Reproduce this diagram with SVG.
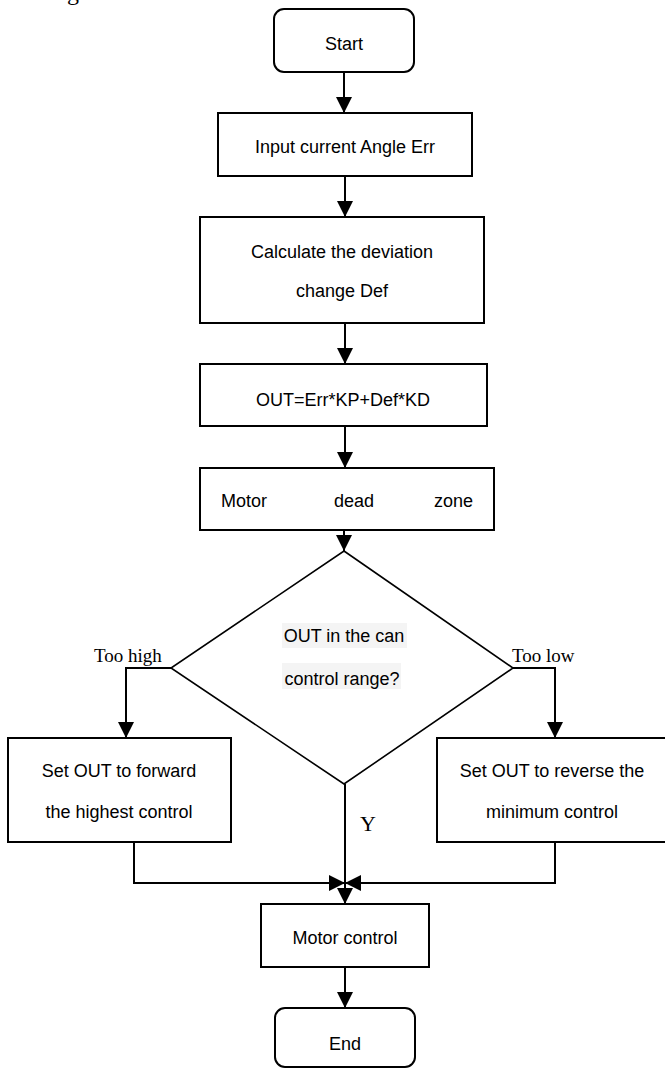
<svg xmlns="http://www.w3.org/2000/svg" width="665" height="1068" viewBox="0 0 665 1068">
  <style>
    .box { fill: #ffffff; stroke: #000000; stroke-width: 2; }
    .dia { fill: #ffffff; stroke: #000000; stroke-width: 1.6; }
    .lbl { font-family: "Liberation Sans", Arial, sans-serif; font-size: 18px; fill: #000000; }
    .mid { text-anchor: middle; }
    .ser { font-family: "Liberation Serif", "Times New Roman", serif; fill: #000000; }
    .hl { fill: #f4f4f4; stroke: none; }
    .wire { fill: none; stroke: #000000; stroke-width: 2; }
  </style>
  <defs>
    <marker id="arrow" markerUnits="userSpaceOnUse" markerWidth="16" markerHeight="16" refX="16" refY="8" orient="auto">
      <path d="M0,0 L16,8 L0,16 z" fill="#000000"/>
    </marker>
  </defs>

  <rect width="665" height="1068" fill="#ffffff"/>

  <!-- descender of the caption line above -->
  <text class="ser" x="67" y="0" font-size="24">g</text>

  <g id="start">
    <rect class="box" x="274" y="9" width="140" height="63" rx="10"/>
    <text class="lbl mid" x="344" y="49.5">Start</text>
  </g>

  <g id="input">
    <rect class="box" x="218" y="113" width="254" height="63"/>
    <text class="lbl mid" x="345" y="153">Input current Angle Err</text>
  </g>

  <g id="deviation">
    <rect class="box" x="200" y="217" width="284" height="106"/>
    <text class="lbl mid" x="342" y="257.5">Calculate the deviation</text>
    <text class="lbl mid" x="342" y="296.5">change Def</text>
  </g>

  <g id="output">
    <rect class="box" x="200" y="364" width="287" height="62"/>
    <text class="lbl mid" x="343" y="405.5">OUT=Err*KP+Def*KD</text>
  </g>

  <g id="deadzone">
    <rect class="box" x="200" y="468" width="294" height="62"/>
    <text class="lbl" x="221" y="506.5">Motor</text>
    <text class="lbl" x="334" y="506.5">dead</text>
    <text class="lbl" x="473" y="506.5" text-anchor="end">zone</text>
  </g>

  <g id="decision">
    <polygon class="dia" points="344,551 513,668 344,784 171,668"/>
    <rect class="hl" x="282" y="623" width="125" height="25"/>
    <rect class="hl" x="282" y="663" width="119" height="26"/>
    <text class="lbl mid" x="344" y="642">OUT in the can</text>
    <text class="lbl mid" x="342" y="685">control range?</text>
  </g>

  <g id="forward">
    <rect class="box" x="8" y="738" width="223" height="104"/>
    <text class="lbl mid" x="119" y="777">Set OUT to forward</text>
    <text class="lbl mid" x="119" y="818">the highest control</text>
  </g>

  <g id="reverse">
    <rect class="box" x="437" y="738" width="240" height="104"/>
    <text class="lbl mid" x="552" y="777">Set OUT to reverse the</text>
    <text class="lbl mid" x="552" y="818">minimum control</text>
  </g>

  <g id="motor-control">
    <rect class="box" x="261" y="904" width="168" height="63"/>
    <text class="lbl mid" x="345" y="943.5">Motor control</text>
  </g>

  <g id="end">
    <rect class="box" x="275" y="1008" width="140" height="59" rx="10"/>
    <text class="lbl mid" x="345" y="1049.5">End</text>
  </g>

  <g id="connectors">
    <path class="wire" d="M344,72 V113" marker-end="url(#arrow)"/>
    <path class="wire" d="M345,176 V217" marker-end="url(#arrow)"/>
    <path class="wire" d="M345,323 V364" marker-end="url(#arrow)"/>
    <path class="wire" d="M345,426 V468" marker-end="url(#arrow)"/>
    <path class="wire" d="M344,530 V551" marker-end="url(#arrow)"/>
    <path class="wire" d="M171,668 H126 V738" marker-end="url(#arrow)"/>
    <path class="wire" d="M513,668 H555 V738" marker-end="url(#arrow)"/>
    <path class="wire" d="M345,784 V904" marker-end="url(#arrow)"/>
    <path class="wire" d="M134,842 V883 H345" marker-end="url(#arrow)"/>
    <path class="wire" d="M555,842 V883 H345" marker-end="url(#arrow)"/>
    <path class="wire" d="M345,967 V1008" marker-end="url(#arrow)"/>
    <text class="ser" x="94" y="662" font-size="19">Too high</text>
    <text class="ser" x="512" y="662" font-size="19">Too low</text>
    <text class="ser" x="360" y="831" font-size="22">Y</text>
  </g>
</svg>
